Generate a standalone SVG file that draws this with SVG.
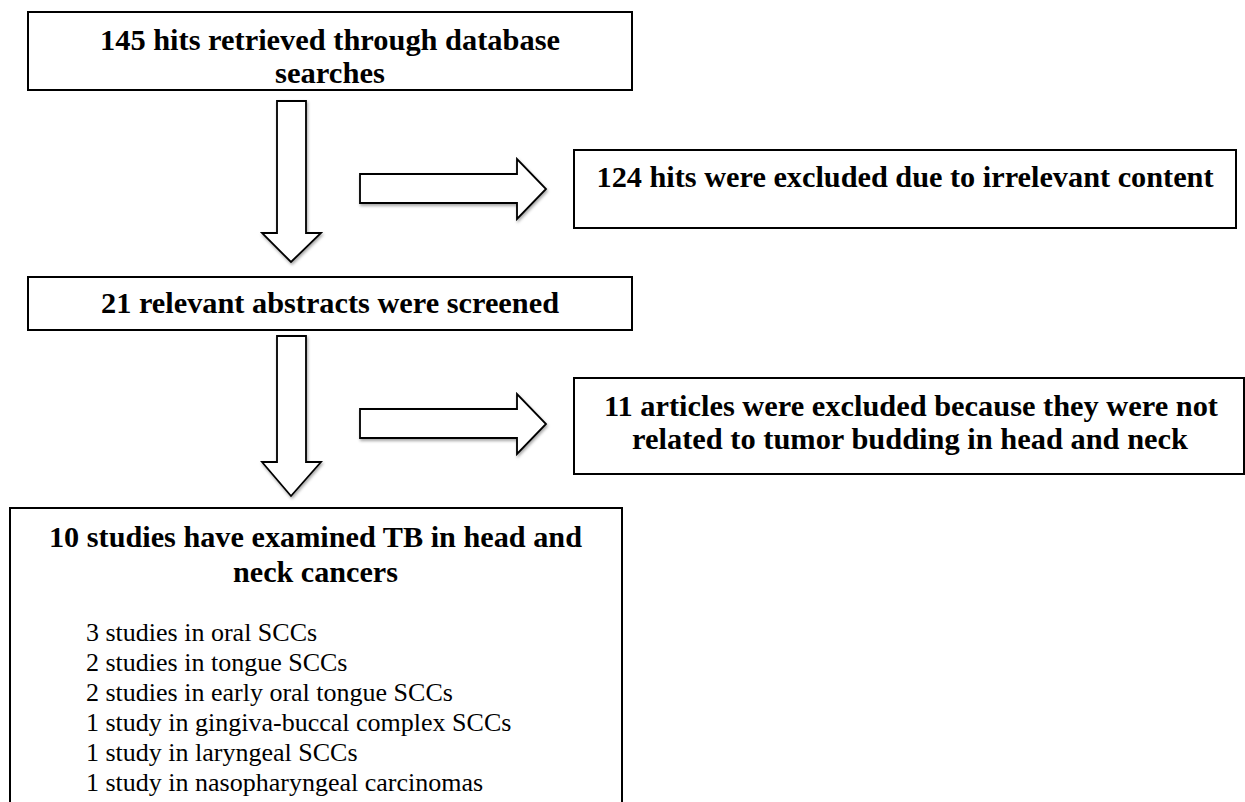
<svg xmlns="http://www.w3.org/2000/svg" width="1245" height="802" viewBox="0 0 1245 802">
<defs>
<style>
.box{fill:#fff;stroke:#000;stroke-width:2}
.arr{fill:#fff;stroke:#000;stroke-width:1.8;stroke-linejoin:miter}
.t{font-family:"Liberation Serif","Times New Roman",serif;font-weight:bold;font-size:30px;fill:#000;text-anchor:middle}
.l{font-family:"Liberation Serif","Times New Roman",serif;font-size:26px;fill:#000}
</style>
<filter id="sh" x="-20%" y="-20%" width="140%" height="140%">
<feDropShadow dx="1" dy="2" stdDeviation="1.5" flood-color="#000" flood-opacity="0.35"/>
</filter>
</defs>
<rect width="1245" height="802" fill="#fff"/>
<g id="n1">
<rect class="box" x="28" y="12" width="604" height="78"/>
<text class="t" x="330" y="50" textLength="460" lengthAdjust="spacingAndGlyphs">145 hits retrieved through database</text>
<text class="t" x="330" y="83" textLength="110" lengthAdjust="spacingAndGlyphs">searches</text>
</g>
<g id="n2">
<rect class="box" x="574" y="150" width="662" height="78"/>
<text class="t" x="905" y="187" textLength="617" lengthAdjust="spacingAndGlyphs">124 hits were excluded due to irrelevant content</text>
</g>
<g id="n3">
<rect class="box" x="28" y="277" width="604" height="53"/>
<text class="t" x="330" y="313" textLength="458" lengthAdjust="spacingAndGlyphs">21 relevant abstracts were screened</text>
</g>
<g id="n4">
<rect class="box" x="574" y="378" width="670" height="96"/>
<text class="t" x="911" y="416" textLength="614" lengthAdjust="spacingAndGlyphs">11 articles were excluded because they were not</text>
<text class="t" x="910" y="449" textLength="556" lengthAdjust="spacingAndGlyphs">related to tumor budding in head and neck</text>
</g>
<g id="n5">
<rect class="box" x="10" y="508" width="612" height="300"/>
<text class="t" x="315.5" y="547" textLength="533" lengthAdjust="spacingAndGlyphs">10 studies have examined TB in head and</text>
<text class="t" x="315.5" y="582" textLength="165" lengthAdjust="spacingAndGlyphs">neck cancers</text>
<text class="l" x="86" y="641">3 studies in oral SCCs</text>
<text class="l" x="86" y="671">2 studies in tongue SCCs</text>
<text class="l" x="86" y="701">2 studies in early oral tongue SCCs</text>
<text class="l" x="86" y="731">1 study in gingiva-buccal complex SCCs</text>
<text class="l" x="86" y="761">1 study in laryngeal SCCs</text>
<text class="l" x="86" y="791">1 study in nasopharyngeal carcinomas</text>
</g>
<g id="connectors" filter="url(#sh)">
<polygon class="arr" points="277,101 306,101 306,233 321,233 291,262 262,233 277,233"/>
<polygon class="arr" points="360,174 517,174 517,159 546,189 517,219 517,203 360,203"/>
<polygon class="arr" points="277,336 306,336 306,462 321,462 291,496 262,462 277,462"/>
<polygon class="arr" points="360,409 517,409 517,394 546,424 517,454 517,438 360,438"/>
</g>
</svg>
